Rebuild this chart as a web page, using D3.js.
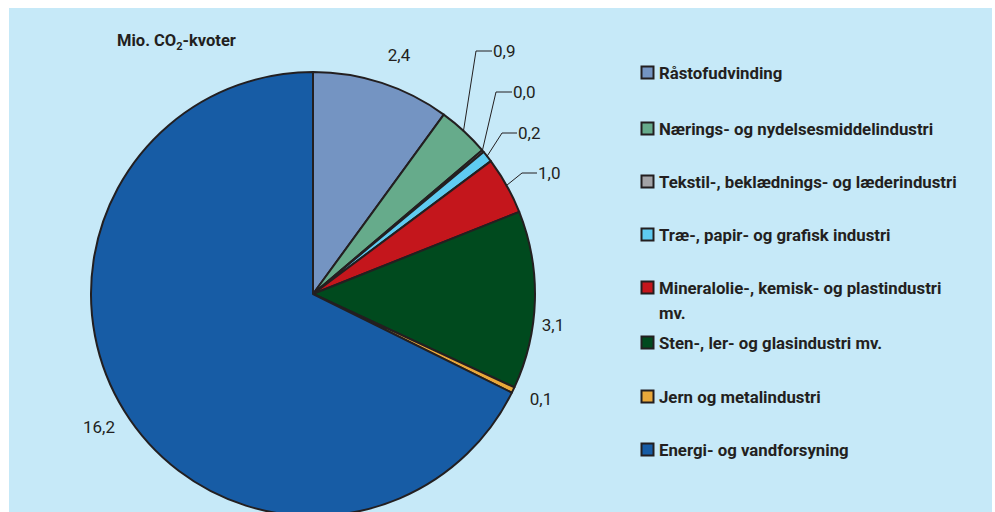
<!DOCTYPE html>
<html><head><meta charset="utf-8">
<script src="https://cdn.jsdelivr.net/npm/d3@7"></script>
<style>html,body{margin:0;padding:0;background:#fff;}svg{display:block;}</style>
</head><body>
<svg id="c" width="995" height="512"></svg>
<script>
const categories = ["Råstofudvinding","Nærings- og nydelsesmiddelindustri","Tekstil-, beklædnings- og læderindustri","Træ-, papir- og grafisk industri","Mineralolie-, kemisk- og plastindustri mv.","Sten-, ler- og glasindustri mv.","Jern og metalindustri","Energi- og vandforsyning"];
const values = [2.4, 0.9, 0.04, 0.2, 1.0, 3.1, 0.1, 16.2];
const labels = ["2,4","0,9","0,0","0,2","1,0","3,1","0,1","16,2"];
const colors = ["#7494c2","#66ab8b","#a3a3a6","#5fcbf1","#c4161c","#004a1e","#e9a83a","#175ca5"];
const legendLines = [["Råstofudvinding"],["Nærings- og nydelsesmiddelindustri"],["Tekstil-, beklædnings- og læderindustri"],["Træ-, papir- og grafisk industri"],["Mineralolie-, kemisk- og plastindustri","mv."],["Sten-, ler- og glasindustri mv."],["Jern og metalindustri"],["Energi- og vandforsyning"]];

const svg = d3.select("#c");
svg.append("rect").attr("x",9).attr("y",8).attr("width",983).attr("height",504).attr("fill","#c6e9f8");

const cx = 313, cy = 294, R = 222;
const pie = d3.pie().sort(null).value(d=>d);
const arcs = pie(values);
const arc = d3.arc().innerRadius(0).outerRadius(R);
const g = svg.append("g").attr("transform",`translate(${cx},${cy})`);
g.selectAll("path").data(arcs).join("path")
  .attr("d",arc).attr("fill",(d,i)=>colors[i])
  .attr("stroke","#231f20").attr("stroke-width",2).attr("stroke-linejoin","round");

const font = "Roboto, 'Open Sans', sans-serif";
// title
const t = svg.append("text").attr("x",117).attr("y",46).attr("font-family",font)
  .attr("font-weight","bold").attr("font-size",16.5).attr("fill","#231f20");
t.append("tspan").text("Mio. CO");
t.append("tspan").attr("font-size",11).attr("dy",4).text("2");
t.append("tspan").attr("dy",-4).text("-kvoter");

// labels
const pt = (d,r)=>{const a=(d.startAngle+d.endAngle)/2; return [cx+r*Math.sin(a), cy-r*Math.cos(a)];};
const leader = {1:[476,51,492], 2:[496,92,512], 3:[502,133,517], 4:[522,173,537]};
const free = {0:[399,61], 5:[553,331], 6:[541,405], 7:[99,433]};
arcs.forEach((d,i)=>{
  if (leader[i]) {
    const [kx,ky,ex] = leader[i];
    const [sx,sy] = pt(d,R-1);
    svg.append("polyline").attr("points",`${sx},${sy} ${kx},${ky} ${ex},${ky}`)
      .attr("fill","none").attr("stroke","#231f20").attr("stroke-width",1);
    svg.append("text").attr("x",ex+1).attr("y",ky+6).attr("font-family",font)
      .attr("font-size",17).attr("fill","#231f20").text(labels[i]);
  } else {
    svg.append("text").attr("x",free[i][0]).attr("y",free[i][1]).attr("text-anchor","middle")
      .attr("font-family",font).attr("font-size",17).attr("fill","#231f20").text(labels[i]);
  }
});

// legend
const legY = [73,129,182,235,288,343,397,450];
categories.forEach((c,i)=>{
  const y = legY[i];
  svg.append("rect").attr("x",641.5).attr("y",y-6.5).attr("width",12).attr("height",12)
    .attr("fill",colors[i]).attr("stroke","#231f20").attr("stroke-width",2);
  legendLines[i].forEach((ln,j)=>{
    svg.append("text").attr("x",659).attr("y",y+6+j*25).attr("font-family",font)
      .attr("font-weight","bold").attr("font-size",16.8).attr("fill","#231f20").text(ln);
  });
});
</script>
</body></html>
